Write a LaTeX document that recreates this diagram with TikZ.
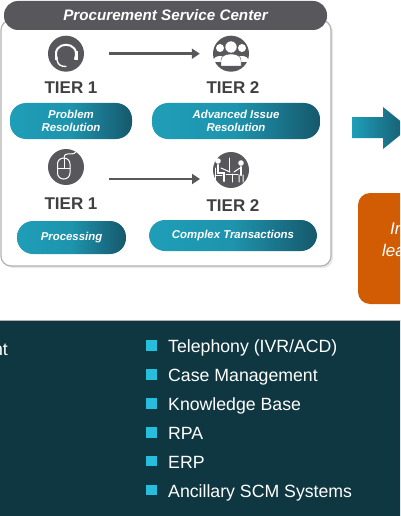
\documentclass[tikz,border=0pt]{standalone}
\usepackage{xcolor}
\usepackage{fontspec}
\setmainfont{Liberation Sans}
\usepackage{tikz}
\usetikzlibrary{arrows.meta,shadows}
\definecolor{bandteal}{RGB}{15, 55, 66}
\definecolor{iconslate}{RGB}{88, 88, 92}
\definecolor{tealstart}{RGB}{31, 158, 184}
\definecolor{tealend}{RGB}{22, 88, 108}
\definecolor{squarecyan}{RGB}{38, 190, 220}
\definecolor{burntorange}{RGB}{209, 92, 4}

\begin{document}
\begin{tikzpicture}[x=1pt, y=-1pt,
  panel/.style={draw=black!30, fill=white, line width=1.2pt, rounded corners=10pt, drop shadow={shadow xshift=2pt, shadow yshift=-2pt, opacity=0.18}},
  titlebar/.style={fill=iconslate, rounded corners=14pt, font=\fontsize{15.2}{17}\selectfont\bfseries\itshape, text=white},
  iconbase/.style={circle, fill=iconslate, minimum size=36pt, inner sep=0pt},
  tier/.style={font=\fontsize{17}{19}\selectfont\bfseries, text=black!75},
  pill/.style={left color=tealstart, right color=tealend, middle color=tealstart!85!tealend, rounded corners=16pt, font=\fontsize{11.4}{13.5}\selectfont\bfseries\itshape, text=white, align=center, inner sep=0pt},
  flow/.style={-{Triangle[length=8pt, width=10pt]}, draw=iconslate, line width=2.5pt},
  square/.style={fill=squarecyan, minimum size=10.5pt, inner sep=0pt},
  item/.style={anchor=base west, font=\fontsize{17.7}{20}\selectfont, text=white, inner sep=0pt},
  cuttext/.style={anchor=base west, text=white, font=\fontsize{17}{19}\selectfont\itshape, inner sep=0pt},
  glyph/.style={draw=white, line width=1pt, line cap=round}
]
\useasboundingbox (0,0) rectangle (400,516);
\clip (0,0) rectangle (400,516);

% service center panel
\node[panel, minimum width=330pt, minimum height=246pt, inner sep=0pt] (center) at (166,143) {};
\node[titlebar, minimum width=323pt, minimum height=29pt, inner sep=0pt] (title) at (165.5,15.5) {Procurement Service Center};

\node[iconbase] (headset) at (66,53.7) {};
\node[iconbase] (group) at (231,53.7) {};
\node[iconbase] (mouse) at (66,167) {};
\node[iconbase] (desk) at (231,170) {};

% headset
\draw[glyph, line width=2pt] (57,59) .. controls (50,40) and (82,40) .. (75,59);
\draw[glyph, line width=1.4pt] (57,60) .. controls (58,65) and (61,66.5) .. (66,66.5);
\fill[white] (54.5,51) rectangle (57,60);
\fill[white] (75,51) rectangle (77.5,60);
% group
\fill[white] (220,48) circle (4pt);
\fill[white] (242,48) circle (4pt);
\fill[white] (213,62) .. controls (213,54) and (227,54) .. (227,62) -- cycle;
\fill[white] (249,62) .. controls (249,54) and (235,54) .. (235,62) -- cycle;
\filldraw[fill=white, draw=iconslate] (231,47) circle (6pt);
\filldraw[fill=white, draw=iconslate] (221,60) .. controls (221,52) and (241,52) .. (241,60) -- (241,66) -- (221,66) -- cycle;
% mouse
\draw[glyph, rounded corners=6pt] (57.5,158) rectangle (70,179);
\draw[glyph] (57.5,168) -- (70,168) (64,158) -- (64,168);
\draw[glyph] (64,158) .. controls (65,150) and (71,157) .. (76,152);
% desk
\fill[white] (218,161) circle (2.8pt);
\draw[glyph, line width=2.4pt] (218,165) -- (218,173) -- (224,173) -- (224,181);
\draw[glyph] (215,168) -- (215,182) (215,175) -- (222,175);
\draw[glyph] (221,168) -- (230,172);
\draw[glyph] (226,174) -- (238,174) (232,174) -- (232,182);
\draw[glyph] (229,158) -- (229,172);
\fill[white] (241,163) circle (2.8pt);
\draw[glyph, line width=2.4pt] (241,167) -- (241,175);
\draw[glyph] (239,175) -- (239,182) (243,175) -- (243,182) (240,168) -- (234,172);

\node[tier] (tiera) at (71,88) {TIER 1};
\node[tier] (tierb) at (233,88) {TIER 2};
\node[tier] (tierc) at (71,204) {TIER 1};
\node[tier] (tierd) at (233,206) {TIER 2};

\node[pill, minimum width=122pt, minimum height=36pt] (problem) at (71,121) {Problem\\Resolution};
\node[pill, minimum width=168pt, minimum height=36pt] (advanced) at (236,121) {Advanced Issue\\Resolution};
\node[pill, minimum width=109pt, minimum height=33pt] (processing) at (71.5,237.5) {Processing};
\node[pill, minimum width=168pt, minimum height=31pt] (complex) at (233,235.5) {Complex Transactions};

\coordinate (lowstart) at (109,179);
\coordinate (lowend) at (200,179);
\draw[flow, shorten <=25pt, shorten >=13pt] (headset) -- (group);
\draw[flow] (lowstart) -- (lowend);

% big arrow and orange box, cut off by the page
\path[left color=tealstart, right color=tealend] (352,117) -- (383,117) -- (383,107) -- (409,128) -- (383,149) -- (383,138) -- (352,138) -- cycle;
\node[fill=burntorange, rounded corners=12pt, minimum width=100pt, minimum height=111pt, inner sep=0pt] (orange) at (408,248.5) {};
\node[cuttext] (orangea) at (390,234) {In};
\node[cuttext] (orangeb) at (382,256) {lea};

% tools band
\node[fill=bandteal, draw=black!30, line width=0.5pt, minimum width=404pt, minimum height=200pt, inner sep=0pt] (band) at (200,420) {};
\node[item, anchor=base east] (cutoff) at (8,355) {nt};

\node[square] (sqa) at (151.5,345.5) {};
\node[square] (sqb) at (151.5,374.5) {};
\node[square] (sqc) at (151.5,403.5) {};
\node[square] (sqd) at (151.5,432.5) {};
\node[square] (sqe) at (151.5,461) {};
\node[square] (sqf) at (151.5,490) {};
\node[item] (ita) at (168,352) {Telephony (IVR/ACD)};
\node[item] (itb) at (168,381) {Case Management};
\node[item] (itc) at (168,410) {Knowledge Base};
\node[item] (itd) at (168,439) {RPA};
\node[item] (ite) at (168,468) {ERP};
\node[item] (itf) at (168,497) {Ancillary SCM Systems};

\end{tikzpicture}
\end{document}
